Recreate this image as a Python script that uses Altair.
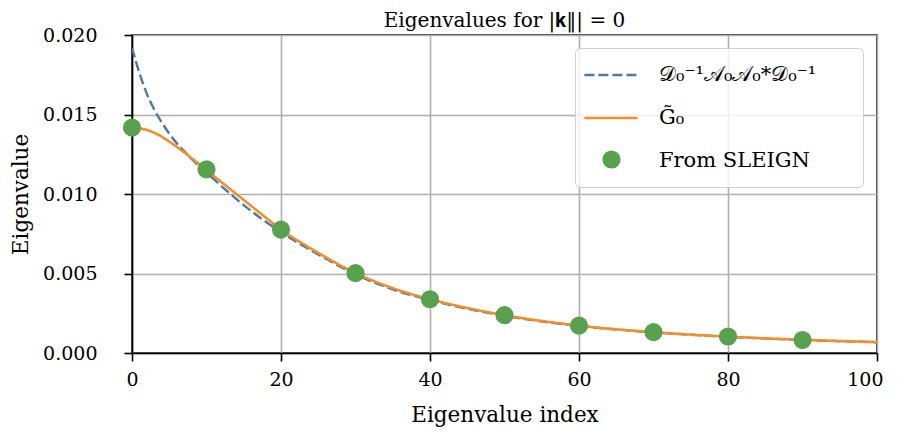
import altair as alt
import pandas as pd

# ---- data ----
LBL_A = "𝒟₀⁻¹𝒜₀𝒜₀*𝒟₀⁻¹\u2800\u2800"
LBL_G = "G̃₀"
LBL_S = "From SLEIGN"

a_x = [0, 1, 2, 3, 4, 5, 6, 7, 8, 10, 12, 15, 20, 25, 30, 35, 40, 45, 50, 60, 70, 80, 90, 100]
a_y = [0.0192, 0.0176, 0.0163, 0.0153, 0.0145, 0.0138, 0.0132, 0.0127, 0.0122, 0.01135, 0.0105,
       0.0093, 0.0076, 0.0062, 0.00495, 0.0040, 0.00333, 0.00278, 0.00234, 0.00170,
       0.00130, 0.00102, 0.00082, 0.00068]

g_x = [0, 1, 2, 3, 4, 5, 6, 7, 8, 9, 10, 12, 14, 16, 18, 20, 25, 30, 35, 40, 45, 50, 60, 70, 80, 90, 100]
g_y = [0.01417, 0.01413, 0.01403, 0.01385, 0.0136, 0.0133, 0.01297, 0.01262, 0.01225, 0.01188,
       0.0115, 0.01075, 0.0100, 0.00925, 0.0085, 0.00777, 0.0063, 0.00503, 0.00408, 0.00338,
       0.00283, 0.00238, 0.00172, 0.00131, 0.00103, 0.00083, 0.00069]

s_x = [0, 10, 20, 30, 40, 50, 60, 70, 80, 90]
s_y = [0.01417, 0.01155, 0.00776, 0.00502, 0.00338, 0.00238, 0.00172, 0.00131, 0.00104, 0.00082]

series_domain = [LBL_A, LBL_G, LBL_S]
line_colors = ["#4e79a7", "#f28e2b", "transparent"]
line_dashes = [[10, 4], [1, 0], [1, 0]]
point_color = "#59a14f"

df_a = pd.DataFrame({"x": a_x, "y": a_y, "series": LBL_A})
df_g = pd.DataFrame({"x": g_x, "y": g_y, "series": LBL_G})
df_s = pd.DataFrame({"x": s_x, "y": s_y, "kind": LBL_S})

FONT = "DejaVu Serif"

xscale = alt.Scale(domain=[0, 100], nice=False, zero=False)
yscale = alt.Scale(domain=[0, 0.02], nice=False)

xaxis = alt.Axis(title="Eigenvalue index", values=[0, 20, 40, 60, 80, 100], format="d",
                 labelPadding=9, titlePadding=15, labelFlush=True, labelFlushOffset=6)
yaxis = alt.Axis(title="Eigenvalue", values=[0, 0.005, 0.01, 0.015, 0.02], format=".3f",
                 labelPadding=27, titlePadding=10)

line_legend = alt.Legend(
    title=None, orient="none", legendX=443, legendY=13,
    labelFont=FONT, labelFontSize=21, labelLimit=400, labelOffset=37,
    rowPadding=22, padding=16,
    fillColor="rgba(255,255,255,0.8)", strokeColor="#d0d0d0", cornerRadius=5,
    symbolType="M-2.8,0L2.8,0", symbolSize=361, symbolStrokeWidth=2.6, symbolOffset=9,
)
point_legend = alt.Legend(
    title=None, orient="none", legendX=470, legendY=115,
    labelExpr="''", labelFontSize=2, padding=0,
    symbolType="circle", symbolSize=330, symbolStrokeWidth=0, symbolOpacity=1,
)

stroke = alt.Stroke("series:N", scale=alt.Scale(domain=series_domain, range=line_colors), legend=line_legend)
dash = alt.StrokeDash("series:N", scale=alt.Scale(domain=series_domain, range=line_dashes), legend=line_legend)
fill = alt.Fill("kind:N", scale=alt.Scale(domain=[LBL_S], range=[point_color]), legend=point_legend)

base_x = alt.X("x:Q", scale=xscale, axis=xaxis)
base_y = alt.Y("y:Q", scale=yscale, axis=yaxis)

line_a = alt.Chart(df_a).mark_line(strokeWidth=2.4, interpolate="monotone", clip=True).encode(
    x=base_x, y=base_y, stroke=stroke, strokeDash=dash)
line_g = alt.Chart(df_g).mark_line(strokeWidth=2.6, interpolate="monotone", clip=True).encode(
    x=base_x, y=base_y, stroke=stroke, strokeDash=dash)
pts = alt.Chart(df_s).mark_point(filled=True, size=330, opacity=1, shape="circle", strokeWidth=0).encode(
    x=base_x, y=base_y, fill=fill)

chart = alt.layer(line_a, line_g, pts).properties(
    width=745,
    height=318,
    title=alt.Title("Eigenvalues for |𝐤‖| = 0", font=FONT, fontSize=20, fontWeight="normal",
                    color="black", offset=-5),
    padding={"left": 124, "top": 27, "right": 12, "bottom": 74},
    autosize=alt.AutoSizeParams(type="none"),
).configure_view(
    stroke="black", strokeWidth=1.6
).configure_axis(
    labelFont=FONT, titleFont=FONT, labelFontSize=19, titleFontSize=21.5,
    titleFontWeight="normal", labelColor="black", titleColor="black",
    domainColor="black", domainWidth=1.6, tickColor="black", tickWidth=1.6, tickSize=8,
    gridColor="#b0b0b0", gridWidth=1.6, grid=True,
)

chart.save("out.html", embed_options={"renderer": "svg", "actions": False})
